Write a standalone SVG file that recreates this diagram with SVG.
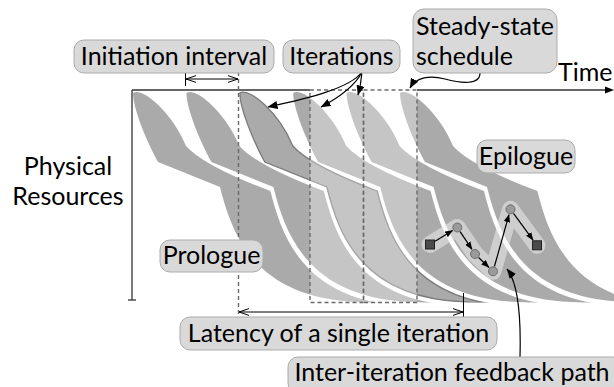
<svg xmlns="http://www.w3.org/2000/svg" xmlns:xlink="http://www.w3.org/1999/xlink" width="614" height="387" viewBox="0 0 614 387">
<style>
.lbl{fill:#d9d9d9;stroke:#ababab;stroke-width:1}
.t{font-family:Lato,"Open Sans","DejaVu Sans",sans-serif;font-size:25px;fill:#000}
.m{text-anchor:middle}
.sh{fill:#aaaaaa}
.dash{fill:none;stroke:#6a6a6a;stroke-width:1.4;stroke-dasharray:4 3}
.ax{stroke:#333;stroke-width:1.3;fill:none}
.c{fill:none;stroke:#000;stroke-width:1.2}
.sq{fill:#4a4a4a;stroke:#222;stroke-width:1}
.ci{fill:#9a9a9a;stroke:#6e6e6e;stroke-width:1}
</style>
<defs>
<clipPath id="clip"><rect x="0" y="0" width="614" height="302.5"/></clipPath>
<path id="iter" d="M133,93 C133,108 146,140 158,162 L220,187 C232,235 255,298 358,302 L408.4,306 C305.4,302 282.4,239 270.4,191 Q204,166 186,146 C172,112 142,87 133,93 Z"/>
<marker id="ah" viewBox="0 0 10 8" refX="9.5" refY="4" markerWidth="10" markerHeight="8" markerUnits="userSpaceOnUse" orient="auto"><path d="M0,0 L10,4 L0,8 Z" fill="#000"/></marker>
<marker id="ahs" viewBox="0 0 10 8" refX="9.5" refY="4" markerWidth="8" markerHeight="6.4" markerUnits="userSpaceOnUse" orient="auto"><path d="M0,0 L10,4 L0,8 Z" fill="#000"/></marker>
<marker id="oa" viewBox="0 0 10 8" refX="10" refY="4" markerWidth="10" markerHeight="8" markerUnits="userSpaceOnUse" orient="auto-start-reverse"><path d="M0,0.6 L10,4 L0,7.4" fill="none" stroke="#000" stroke-width="1"/></marker>
</defs>

<g id="iterations" clip-path="url(#clip)">
<use id="iter1" href="#iter" class="sh"/>
<use id="iter2" href="#iter" class="sh" transform="translate(53.4,0)"/>
<use id="iter3" href="#iter" class="sh" transform="translate(106.8,0)" stroke="#7a7a7a" stroke-width="1.3"/>
<use id="iter4" href="#iter" class="sh" transform="translate(160.2,0)"/>
<use id="iter5" href="#iter" class="sh" transform="translate(213.6,0)"/>
<use id="iter6" href="#iter" class="sh" transform="translate(267,0)"/>
</g>

<g id="steady-state">
<rect x="310" y="89.5" width="107" height="213" fill="#ffffff" fill-opacity="0.32"/>
<rect x="310" y="90" width="53.5" height="212.5" class="dash"/>
<rect x="363.5" y="90" width="53.5" height="212.5" class="dash"/>
</g>

<g id="axes">
<line x1="132" y1="90" x2="132" y2="300" class="ax"/>
<line x1="128" y1="300" x2="136" y2="300" class="ax"/>
<line x1="132" y1="90" x2="310" y2="90" class="ax"/>
<line x1="417" y1="90" x2="606" y2="90" class="ax"/>
<path d="M614,90 L605,86.5 L605,93.5 Z" fill="#000"/>
</g>

<g id="connectors">
<line x1="238.5" y1="72" x2="238.5" y2="320" class="dash"/>
<line x1="185.5" y1="72" x2="185.5" y2="86" stroke="#000" stroke-width="1"/>
<line x1="186" y1="79" x2="238" y2="79" stroke="#000" stroke-width="1" marker-start="url(#oa)" marker-end="url(#oa)"/>
<line x1="463.5" y1="293" x2="463.5" y2="319" stroke="#000" stroke-width="1"/>
<line x1="239" y1="312" x2="463" y2="312" stroke="#000" stroke-width="1" marker-start="url(#oa)" marker-end="url(#oa)"/>
<path d="M362,72 C350,88 310,98 268,107" class="c" marker-end="url(#ah)"/>
<path d="M362,72 C355,86 338,98 321,107" class="c" marker-end="url(#ah)"/>
<path d="M362,72 Q361,84 358,95" class="c" marker-end="url(#ah)"/>
<path d="M480,72 C481,86 460,83 445,79 C430,75 416,77 410,88" class="c" marker-end="url(#ah)"/>
<path d="M520,357 C521,320 519,284 507,269" class="c" marker-end="url(#ah)"/>
</g>

<g id="feedback-path">
<polyline points="430,244.5 457.3,227.5 475,254 493,271.3 510.5,209.3 537,245.3" fill="none" stroke="#f2f2f2" stroke-opacity="0.5" stroke-width="17" stroke-linecap="round" stroke-linejoin="round"/>
<line x1="435.1" y1="241.3" x2="452.6" y2="230.4" class="c" marker-end="url(#ahs)"/>
<line x1="460.1" y1="231.7" x2="472" y2="249.4" class="c" marker-end="url(#ahs)"/>
<line x1="478.6" y1="257.5" x2="489" y2="267.5" class="c" marker-end="url(#ahs)"/>
<line x1="494.4" y1="266.5" x2="509" y2="214.6" class="c" marker-end="url(#ahs)"/>
<line x1="513.5" y1="213.3" x2="533.1" y2="240.1" class="c" marker-end="url(#ahs)"/>
<rect id="op1" x="425.5" y="240" width="9" height="9" class="sq"/>
<circle id="op2" cx="457.3" cy="227.5" r="4.5" class="ci"/>
<circle id="op3" cx="475" cy="254" r="4.5" class="ci"/>
<circle id="op4" cx="493" cy="271.3" r="4.5" class="ci"/>
<circle id="op5" cx="510.5" cy="209.3" r="4.5" class="ci"/>
<rect id="op6" x="532.5" y="240.8" width="9" height="9" class="sq"/>
</g>

<g id="label-ii"><rect x="74" y="40" width="200" height="33" rx="10" class="lbl"/><text x="174" y="65" class="t m">Initiation interval</text></g>
<g id="label-iterations"><rect x="283" y="40" width="117" height="33" rx="10" class="lbl"/><text x="341.5" y="65" class="t m">Iterations</text></g>
<g id="label-steady"><rect x="413" y="9" width="144" height="64" rx="11" class="lbl"/><text x="416" y="35" class="t">Steady-state</text><text x="416" y="65" class="t">schedule</text></g>
<g id="label-time"><text x="558" y="81" class="t">Time</text></g>
<g id="label-resources"><text x="68" y="175" class="t m">Physical</text><text x="68" y="205" class="t m">Resources</text></g>
<g id="label-prologue"><rect x="160" y="240" width="103" height="32" rx="10" class="lbl"/><text x="211.5" y="264" class="t m">Prologue</text></g>
<g id="label-epilogue"><rect x="477" y="140" width="98" height="33" rx="10" class="lbl"/><text x="526" y="165" class="t m">Epilogue</text></g>
<g id="label-latency"><rect x="180" y="317" width="317" height="33" rx="10" class="lbl"/><text x="338.5" y="342" class="t m">Latency of a single iteration</text></g>
<g id="label-feedback"><rect x="288" y="357" width="335" height="36" rx="10" class="lbl"/><text x="452" y="381" class="t m">Inter-iteration feedback path</text></g>
</svg>
